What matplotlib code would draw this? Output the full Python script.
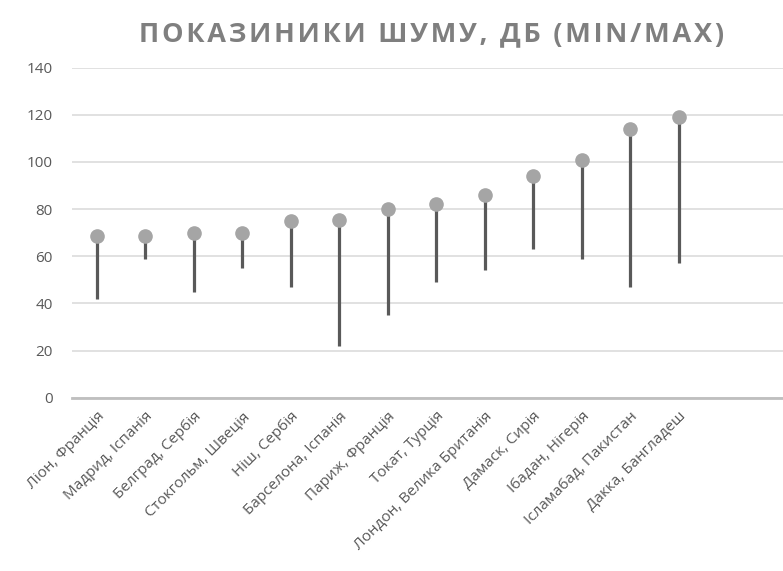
import numpy as np
import matplotlib as mpl
import matplotlib.pyplot as plt

cities = ['Ліон, Франція', 'Мадрид, Іспанія', 'Белград, Сербія', 'Стокгольм, Швеція',
          'Ніш, Сербія', 'Барселона, Іспанія', 'Париж, Франція', 'Токат, Турція',
          'Лондон, Велика Британія', 'Дамаск, Сирія', 'Ібадан, Нігерія',
          'Ісламабад, Пакистан', 'Дакка, Бангладеш']
noise_max = [68.5, 68.5, 70, 70, 75, 75.5, 80, 82, 86, 94, 101, 114, 119]
noise_min = [42, 59, 45, 55, 47, 22, 35, 49, 54, 63, 59, 47, 57]
yticks = [0, 20, 40, 60, 80, 100, 120, 140]
title = 'ПОКАЗИНИКИ ШУМУ, ДБ (MIN/MAX)'

mpl.rcParams['font.family'] = ['Open Sans', 'DejaVu Sans']

fig = plt.figure(figsize=(7.83, 5.71), dpi=100)
ax = fig.add_axes([72.4 / 783, 173.3 / 571, 1 - 72.4 / 783, 330 / 571])

x = np.arange(len(cities))

# min/max stems with a dot at the max
ax.vlines(x, noise_min, noise_max, color='#595959', lw=2.3, zorder=2)
ax.plot(x, noise_max, 'o', ms=9.5, color='#A5A5A5', mec='#A5A5A5', zorder=3)

ax.set_ylim(0, 140)
ax.set_xlim(-0.5, (783 - 96.7) / 48.5)
ax.set_yticks(yticks)
ax.set_xticks(x)
ax.set_xticklabels(cities, rotation=45, ha='right', va='top', rotation_mode='anchor',
                   fontsize=11.5)

ax.grid(axis='y', color='#D9D9D9', lw=1.1, zorder=0)
ax.set_axisbelow(True)
for side in ['top', 'right', 'left']:
    ax.spines[side].set_visible(False)
ax.spines['bottom'].set_color('#BFBFBF')
ax.spines['bottom'].set_linewidth(2)
ax.tick_params(length=0, colors='#595959', labelsize=11)
ax.tick_params(axis='y', pad=14)
ax.tick_params(axis='x', pad=8)

# letter-spaced title: hair space between letters, wider gap between words
spaced = '\u200a \u200a'.join('\u200a'.join(word) for word in title.split(' '))
fig.text(0.5 + 40 / 783, 1 - 34 / 571, spaced,
         ha='center', va='center', fontsize=19.5, fontweight='bold', color='#7F7F7F')

fig.savefig('out.png', dpi=100)
